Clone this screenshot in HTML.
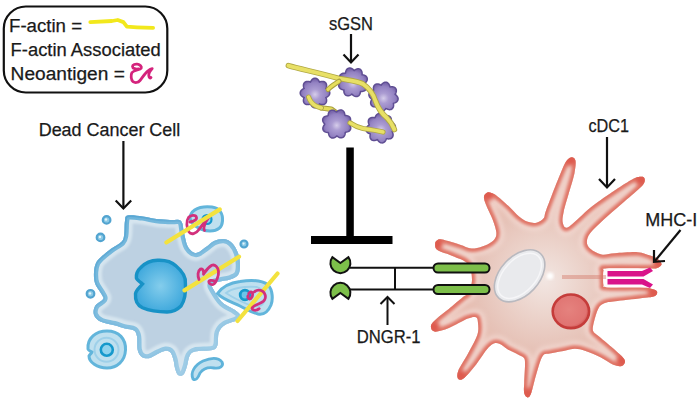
<!DOCTYPE html>
<html><head><meta charset="utf-8"><style>
html,body{margin:0;padding:0;background:#fff;}
svg{display:block;}
text{font-family:"Liberation Sans",sans-serif;fill:#1a1a1a;stroke:#1a1a1a;stroke-width:0.25;}
.fl{fill:url(#pg);stroke:#5f4e93;stroke-width:1.5;}
.blue{fill:#bcd9ea;stroke:#5fb2da;stroke-width:2.5;}
</style></head><body>
<svg width="700" height="400" viewBox="0 0 700 400">
<defs>
<radialGradient id="pg" cx="0.5" cy="0.55" r="0.5">
<stop offset="0" stop-color="#d6cdea"/><stop offset="0.35" stop-color="#ab9cd2"/><stop offset="0.8" stop-color="#9382c2"/><stop offset="1" stop-color="#7b68ad"/>
</radialGradient>
<radialGradient id="dcg" gradientUnits="userSpaceOnUse" cx="545" cy="280" r="100">
<stop offset="0" stop-color="#f2e6e2"/><stop offset="0.35" stop-color="#ecd4cc"/><stop offset="0.7" stop-color="#e6c2b7"/><stop offset="1" stop-color="#e6b4a7"/>
</radialGradient>
<radialGradient id="rcg" cx="0.45" cy="0.45" r="0.55">
<stop offset="0" stop-color="#e5827e"/><stop offset="0.85" stop-color="#e07472"/><stop offset="1" stop-color="#d45a58"/>
</radialGradient>
<radialGradient id="nucg" cx="0.5" cy="0.5" r="0.5">
<stop offset="0" stop-color="#84cdec"/><stop offset="1" stop-color="#42aadd"/>
</radialGradient>
<filter id="blur2" x="-20%" y="-20%" width="140%" height="140%"><feGaussianBlur stdDeviation="2"/></filter>
<linearGradient id="ccb1" gradientUnits="userSpaceOnUse" x1="110" y1="220" x2="210" y2="370"><stop offset="0" stop-color="#6cb4da"/><stop offset="0.55" stop-color="#86c0e0"/><stop offset="1" stop-color="#a6d0e8"/></linearGradient>
<linearGradient id="ccb2" gradientUnits="userSpaceOnUse" x1="110" y1="220" x2="210" y2="370"><stop offset="0" stop-color="#55a5d2"/><stop offset="0.55" stop-color="#80bde0"/><stop offset="1" stop-color="#a2cde6"/></linearGradient>
<filter id="blur15" x="-20%" y="-20%" width="140%" height="140%"><feGaussianBlur stdDeviation="1.5"/></filter>
<filter id="blur1" x="-20%" y="-20%" width="140%" height="140%"><feGaussianBlur stdDeviation="1"/></filter>
<clipPath id="dcclip"><path d="M435.20,244.00 C435.12,242.42 435.87,241.25 437.00,240.50 C438.13,239.75 438.17,238.80 442.00,239.50 C445.83,240.20 455.33,243.23 460.00,244.70 C464.67,246.17 467.17,247.75 470.00,248.30 C472.83,248.85 474.08,248.63 477.00,248.00 C479.92,247.37 484.58,245.95 487.50,244.50 C490.42,243.05 493.03,241.33 494.50,239.30 C495.97,237.27 496.58,235.52 496.30,232.30 C496.02,229.08 494.55,224.67 492.80,220.00 C491.05,215.33 487.27,208.23 485.80,204.30 C484.33,200.37 483.72,198.38 484.00,196.40 C484.28,194.42 486.25,192.97 487.50,192.40 C488.75,191.83 490.03,192.48 491.50,193.00 C492.97,193.52 493.47,193.33 496.30,195.50 C499.13,197.67 504.72,202.50 508.50,206.00 C512.28,209.50 515.78,213.87 519.00,216.50 C522.22,219.13 524.88,220.77 527.80,221.80 C530.72,222.83 533.87,223.28 536.50,222.70 C539.13,222.12 542.08,220.13 543.60,218.30 C545.12,216.47 544.20,215.63 545.60,211.70 C547.00,207.77 549.52,201.08 552.00,194.70 C554.48,188.32 558.18,178.90 560.50,173.40 C562.82,167.90 564.12,164.37 565.90,161.70 C567.68,159.03 569.62,157.58 571.20,157.40 C572.78,157.22 574.87,157.93 575.40,160.60 C575.93,163.27 575.47,168.07 574.40,173.40 C573.33,178.73 570.78,186.22 569.00,192.60 C567.22,198.98 564.75,206.75 563.70,211.70 C562.65,216.65 562.15,219.63 562.70,222.30 C563.25,224.97 564.28,228.42 567.00,227.70 C569.72,226.98 574.75,221.62 579.00,218.00 C583.25,214.38 586.50,210.62 592.50,206.00 C598.50,201.38 608.25,194.80 615.00,190.30 C621.75,185.80 628.67,181.25 633.00,179.00 C637.33,176.75 639.12,176.98 641.00,176.80 C642.88,176.62 643.75,176.97 644.30,177.90 C644.85,178.83 645.05,180.72 644.30,182.40 C643.55,184.08 643.55,184.43 639.80,188.00 C636.05,191.57 627.80,198.55 621.80,203.80 C615.80,209.05 609.05,214.63 603.80,219.50 C598.55,224.37 593.12,229.25 590.30,233.00 C587.48,236.75 586.90,239.37 586.90,242.00 C586.90,244.63 587.87,246.72 590.30,248.80 C592.73,250.88 597.38,253.75 601.50,254.50 C605.62,255.25 608.98,253.68 615.00,253.30 C621.02,252.92 631.77,251.82 637.60,252.20 C643.43,252.58 646.60,254.43 650.00,255.60 C653.40,256.77 656.08,257.72 658.00,259.20 C659.92,260.68 661.67,263.03 661.50,264.50 C661.33,265.97 658.92,267.33 657.00,268.00 C655.08,268.67 658.33,268.42 650.00,268.50 C641.67,268.58 614.75,268.08 607.00,268.50 C599.25,268.92 604.08,268.33 603.50,271.00 C602.92,273.67 602.92,281.83 603.50,284.50 C604.08,287.17 600.58,286.55 607.00,287.00 C613.42,287.45 634.50,286.87 642.00,287.20 C649.50,287.53 649.50,288.28 652.00,289.00 C654.50,289.72 656.50,290.33 657.00,291.50 C657.50,292.67 657.00,294.95 655.00,296.00 C653.00,297.05 651.25,296.97 645.00,297.80 C638.75,298.63 624.20,300.12 617.50,301.00 C610.80,301.88 607.98,301.87 604.80,303.10 C601.62,304.33 600.18,305.38 598.40,308.40 C596.62,311.42 595.00,317.48 594.10,321.20 C593.20,324.92 592.28,328.23 593.00,330.70 C593.72,333.17 595.37,333.33 598.40,336.00 C601.43,338.67 607.30,343.32 611.20,346.70 C615.10,350.08 619.50,353.82 621.80,356.30 C624.10,358.78 625.00,360.00 625.00,361.60 C625.00,363.20 623.75,365.37 621.80,365.90 C619.85,366.43 616.85,366.23 613.30,364.80 C609.75,363.37 605.12,359.60 600.50,357.30 C595.88,355.00 589.85,352.42 585.60,351.00 C581.35,349.58 578.67,348.80 575.00,348.80 C571.33,348.80 567.85,350.20 563.60,351.00 C559.35,351.80 553.02,352.72 549.50,353.60 C545.98,354.48 544.68,352.93 542.50,356.30 C540.32,359.67 538.28,367.68 536.40,373.80 C534.52,379.92 532.65,389.07 531.20,393.00 C529.75,396.93 528.87,397.40 527.70,397.40 C526.53,397.40 524.78,395.48 524.20,393.00 C523.62,390.52 524.07,387.17 524.20,382.50 C524.33,377.83 525.03,369.08 525.00,365.00 C524.97,360.92 525.17,359.75 524.00,358.00 C522.83,356.25 520.75,355.95 518.00,354.50 C515.25,353.05 510.50,351.05 507.50,349.30 C504.50,347.55 502.27,344.98 500.00,344.00 C497.73,343.02 496.10,342.50 493.90,343.40 C491.70,344.30 489.97,345.63 486.80,349.40 C483.63,353.17 478.67,361.25 474.90,366.00 C471.13,370.75 466.97,375.73 464.20,377.90 C461.43,380.07 459.28,380.18 458.30,379.00 C457.32,377.82 456.72,374.95 458.30,370.80 C459.88,366.65 464.63,360.05 467.80,354.10 C470.97,348.15 475.60,340.28 477.30,335.10 C479.00,329.92 478.22,325.97 478.00,323.00 C477.78,320.03 477.70,318.05 476.00,317.30 C474.30,316.55 472.33,316.72 467.80,318.50 C463.27,320.28 454.35,325.82 448.80,328.00 C443.25,330.18 437.47,332.00 434.50,331.60 C431.53,331.20 430.60,327.78 431.00,325.60 C431.40,323.42 433.93,321.27 436.90,318.50 C439.87,315.73 444.45,312.57 448.80,309.00 C453.15,305.43 459.80,299.77 463.00,297.10 C466.20,294.43 466.50,295.85 468.00,293.00 C469.50,290.15 472.00,284.83 472.00,280.00 C472.00,275.17 471.25,268.00 468.00,264.00 C464.75,260.00 457.58,258.33 452.50,256.00 C447.42,253.67 440.38,252.00 437.50,250.00 C434.62,248.00 435.28,245.58 435.20,244.00Z"/></clipPath>
<clipPath id="ccclip"><path d="M127.60,215.50 C130.52,214.77 137.68,215.82 142.50,216.40 C147.32,216.98 151.92,218.40 156.50,219.00 C161.08,219.60 165.92,219.67 170.00,220.00 C174.08,220.33 178.67,218.83 181.00,221.00 C183.33,223.17 182.83,228.67 184.00,233.00 C185.17,237.33 186.00,243.67 188.00,247.00 C190.00,250.33 193.00,253.00 196.00,253.00 C199.00,253.00 203.00,249.00 206.00,247.00 C209.00,245.00 211.00,242.33 214.00,241.00 C217.00,239.67 221.00,238.67 224.00,239.00 C227.00,239.33 229.67,240.67 232.00,243.00 C234.33,245.33 236.67,249.33 238.00,253.00 C239.33,256.67 240.00,261.33 240.00,265.00 C240.00,268.67 239.67,272.58 238.00,275.00 C236.33,277.42 233.00,278.42 230.00,279.50 C227.00,280.58 223.00,280.75 220.00,281.50 C217.00,282.25 213.04,282.58 212.00,284.00 C210.96,285.42 212.00,286.92 213.75,290.00 C215.50,293.08 218.96,299.17 222.50,302.50 C226.04,305.83 232.08,307.92 235.00,310.00 C237.92,312.08 239.58,313.33 240.00,315.00 C240.42,316.67 240.00,318.33 237.50,320.00 C235.00,321.67 228.12,322.92 225.00,325.00 C221.88,327.08 220.00,329.17 218.75,332.50 C217.50,335.83 218.54,342.08 217.50,345.00 C216.46,347.92 216.25,348.92 212.50,350.00 C208.75,351.08 198.83,350.50 195.00,351.50 C191.17,352.50 190.83,353.58 189.50,356.00 C188.17,358.42 188.00,362.92 187.00,366.00 C186.00,369.08 185.00,373.00 183.50,374.50 C182.00,376.00 179.42,376.08 178.00,375.00 C176.58,373.92 175.75,370.50 175.00,368.00 C174.25,365.50 174.25,362.58 173.50,360.00 C172.75,357.42 171.83,354.05 170.50,352.50 C169.17,350.95 167.58,350.50 165.50,350.70 C163.42,350.90 160.75,352.45 158.00,353.70 C155.25,354.95 151.75,357.70 149.00,358.20 C146.25,358.70 143.38,358.07 141.50,356.70 C139.62,355.33 138.45,353.37 137.70,350.00 C136.95,346.63 137.62,339.75 137.00,336.50 C136.38,333.25 136.00,331.83 134.00,330.50 C132.00,329.17 128.28,329.38 125.00,328.50 C121.72,327.62 118.33,326.32 114.30,325.20 C110.27,324.08 104.18,323.50 100.80,321.80 C97.42,320.10 94.95,317.63 94.00,315.00 C93.05,312.37 93.60,308.62 95.10,306.00 C96.60,303.38 101.87,301.17 103.00,299.30 C104.13,297.43 103.22,297.43 101.90,294.80 C100.58,292.17 96.42,287.30 95.10,283.50 C93.78,279.70 93.85,275.42 94.00,272.00 C94.15,268.58 94.92,265.42 96.00,263.00 C97.08,260.58 98.00,259.87 100.50,257.50 C103.00,255.13 107.50,251.42 111.00,248.80 C114.50,246.18 119.30,244.13 121.50,241.80 C123.70,239.47 123.62,238.30 124.20,234.80 C124.78,231.30 124.43,224.02 125.00,220.80 C125.57,217.58 124.68,216.23 127.60,215.50Z"/></clipPath>
<path id="sA" d="M288.4,65.6 C300,69 320,73 339,78.5 C350,80.5 358,81 363,84 C369,88 373,93 375.5,101 C378,108 381,113 387,118 C391,122 393,126 394.4,129.5"/>
<path id="sB" d="M339,81.25 C335,84 331,86 328,89.5"/>
<path id="sC" d="M308.6,97.1 C310,101 312,104 316,106 C318,107 320,107.5 321.4,107.9 M350,122.9 C354,125.5 358,127.5 363,128.5 C370,129.5 377,130.5 383,132"/>
</defs>

<!-- legend -->
<rect x="3.8" y="6.5" width="163.5" height="86" rx="22" ry="22" fill="none" stroke="#111" stroke-width="2.2"/>
<text x="9.01" y="31.50" font-size="18.00" textLength="73.05" lengthAdjust="spacingAndGlyphs">F-actin =</text>
<text x="10.62" y="55.50" font-size="18.00" textLength="150.13" lengthAdjust="spacingAndGlyphs">F-actin Associated</text>
<text x="10.60" y="79.50" font-size="18.00" textLength="114.25" lengthAdjust="spacingAndGlyphs">Neoantigen =</text>
<path d="M90.3,22.1 L112,21 L117.7,20 L123.4,22.1 L126.9,26.7 L137,27.3 L153.1,27.9" fill="none" stroke="#f2e81c" stroke-width="3.8" stroke-linecap="round" stroke-linejoin="round"/>
<path d="M138.5,68.9 C136,69.5 132.5,68.5 132.5,66.5 C132.5,64.5 135.5,63.8 137.5,64.2 C140,64.6 142,66.5 141.2,68.2 C140,70 134,70 132,72.5 C130.5,75 131,80 133,81.6 C135,83 138,82.8 140,80.5 C142.5,77.5 145,73 148,70.8 C149.5,69.6 151,68.8 152.2,68.6 C150.5,70.5 148.5,73 148.8,75.5 C149,77.5 150,78.5 151,77.5" fill="none" stroke="#d4237c" stroke-width="2.8" stroke-linecap="round" stroke-linejoin="round"/>

<!-- sGSN -->
<text x="328.99" y="29.50" font-size="18.00" textLength="44.01" lengthAdjust="spacingAndGlyphs">sGSN</text>
<g stroke="#111" stroke-width="2.2" fill="none" stroke-linecap="butt" stroke-linejoin="miter">
<path d="M351,34 L351,62"/><path d="M343.5,54.5 L351,62.5 L358.5,54.5"/>
</g>

<!-- strands back -->
<g fill="none" stroke-linecap="round" stroke-linejoin="round">
<path d="M321.4,107.9 L331.4,109.3 L350,122.9" stroke="#a9a040" stroke-width="5.5"/><path d="M321.4,107.9 L331.4,109.3 L350,122.9" stroke="#e4dc5a" stroke-width="3.5"/>
</g>
<path class="fl" d="M329.80,93.00 L329.72,93.72 L329.50,94.43 L329.14,95.10 L328.65,95.72 L328.06,96.27 L327.39,96.76 L326.66,97.17 L325.90,97.52 L326.20,98.30 L326.42,99.10 L326.55,99.92 L326.58,100.73 L326.48,101.52 L326.26,102.24 L325.92,102.90 L325.47,103.47 L324.90,103.92 L324.24,104.26 L323.52,104.48 L322.73,104.58 L321.92,104.55 L321.10,104.42 L320.30,104.20 L319.52,103.90 L319.17,104.66 L318.76,105.39 L318.27,106.06 L317.72,106.65 L317.10,107.14 L316.43,107.50 L315.72,107.72 L315.00,107.80 L314.28,107.72 L313.57,107.50 L312.90,107.14 L312.28,106.65 L311.73,106.06 L311.24,105.39 L310.83,104.66 L310.48,103.90 L309.70,104.20 L308.90,104.42 L308.08,104.55 L307.27,104.58 L306.48,104.48 L305.76,104.26 L305.10,103.92 L304.53,103.47 L304.08,102.90 L303.74,102.24 L303.52,101.52 L303.42,100.73 L303.45,99.92 L303.58,99.10 L303.80,98.30 L304.10,97.52 L303.34,97.17 L302.61,96.76 L301.94,96.27 L301.35,95.72 L300.86,95.10 L300.50,94.43 L300.28,93.72 L300.20,93.00 L300.28,92.28 L300.50,91.57 L300.86,90.90 L301.35,90.28 L301.94,89.73 L302.61,89.24 L303.34,88.83 L304.10,88.48 L303.80,87.70 L303.58,86.90 L303.45,86.08 L303.42,85.27 L303.52,84.48 L303.74,83.76 L304.08,83.10 L304.53,82.53 L305.10,82.08 L305.76,81.74 L306.48,81.52 L307.27,81.42 L308.08,81.45 L308.90,81.58 L309.70,81.80 L310.48,82.10 L310.83,81.34 L311.24,80.61 L311.73,79.94 L312.28,79.35 L312.90,78.86 L313.57,78.50 L314.28,78.28 L315.00,78.20 L315.72,78.28 L316.43,78.50 L317.10,78.86 L317.72,79.35 L318.27,79.94 L318.76,80.61 L319.17,81.34 L319.52,82.10 L320.30,81.80 L321.10,81.58 L321.92,81.45 L322.73,81.42 L323.52,81.52 L324.24,81.74 L324.90,82.08 L325.47,82.53 L325.92,83.10 L326.26,83.76 L326.48,84.48 L326.58,85.27 L326.55,86.08 L326.42,86.90 L326.20,87.70 L325.90,88.48 L326.66,88.83 L327.39,89.24 L328.06,89.73 L328.65,90.28 L329.14,90.90 L329.50,91.57 L329.72,92.28Z"/><path class="fl" d="M365.89,82.30 L365.31,82.90 L364.81,83.46 L365.31,84.13 L365.76,84.84 L366.12,85.59 L366.37,86.35 L366.49,87.13 L366.49,87.89 L366.34,88.61 L366.05,89.28 L365.63,89.87 L365.09,90.38 L364.45,90.79 L363.73,91.10 L362.94,91.31 L362.11,91.41 L361.27,91.43 L360.53,91.47 L360.42,92.30 L360.23,93.12 L359.95,93.90 L359.58,94.62 L359.13,95.25 L358.59,95.79 L357.97,96.19 L357.30,96.46 L356.58,96.59 L355.84,96.57 L355.09,96.40 L354.36,96.11 L353.66,95.70 L353.00,95.19 L352.40,94.61 L351.84,94.11 L351.17,94.61 L350.46,95.06 L349.71,95.42 L348.95,95.67 L348.17,95.79 L347.41,95.79 L346.69,95.64 L346.02,95.35 L345.43,94.93 L344.92,94.39 L344.51,93.75 L344.20,93.03 L343.99,92.24 L343.89,91.41 L343.87,90.57 L343.83,89.83 L343.00,89.72 L342.18,89.53 L341.40,89.25 L340.68,88.88 L340.05,88.43 L339.51,87.89 L339.11,87.27 L338.84,86.60 L338.71,85.88 L338.73,85.14 L338.90,84.39 L339.19,83.66 L339.60,82.96 L340.11,82.30 L340.69,81.70 L341.19,81.14 L340.69,80.47 L340.24,79.76 L339.88,79.01 L339.63,78.25 L339.51,77.47 L339.51,76.71 L339.66,75.99 L339.95,75.32 L340.37,74.73 L340.91,74.22 L341.55,73.81 L342.27,73.50 L343.06,73.29 L343.89,73.19 L344.73,73.17 L345.47,73.13 L345.58,72.30 L345.77,71.48 L346.05,70.70 L346.42,69.98 L346.87,69.35 L347.41,68.81 L348.03,68.41 L348.70,68.14 L349.42,68.01 L350.16,68.03 L350.91,68.20 L351.64,68.49 L352.34,68.90 L353.00,69.41 L353.60,69.99 L354.16,70.49 L354.83,69.99 L355.54,69.54 L356.29,69.18 L357.05,68.93 L357.83,68.81 L358.59,68.81 L359.31,68.96 L359.98,69.25 L360.57,69.67 L361.08,70.21 L361.49,70.85 L361.80,71.57 L362.01,72.36 L362.11,73.19 L362.13,74.03 L362.17,74.77 L363.00,74.88 L363.82,75.07 L364.60,75.35 L365.32,75.72 L365.95,76.17 L366.49,76.71 L366.89,77.33 L367.16,78.00 L367.29,78.72 L367.27,79.46 L367.10,80.21 L366.81,80.94 L366.40,81.64Z"/><path class="fl" d="M397.51,96.80 L397.85,97.50 L398.05,98.23 L398.11,98.97 L398.01,99.69 L397.77,100.38 L397.39,101.01 L396.89,101.59 L396.27,102.09 L395.57,102.51 L394.81,102.85 L394.01,103.10 L393.42,103.43 L393.55,104.25 L393.60,105.09 L393.56,105.92 L393.41,106.71 L393.15,107.44 L392.77,108.10 L392.30,108.66 L391.72,109.10 L391.06,109.42 L390.34,109.60 L389.58,109.65 L388.79,109.57 L388.00,109.38 L387.22,109.07 L386.48,108.69 L385.83,108.50 L385.34,109.18 L384.78,109.81 L384.17,110.36 L383.50,110.81 L382.80,111.15 L382.07,111.35 L381.33,111.41 L380.61,111.31 L379.92,111.07 L379.29,110.69 L378.71,110.19 L378.21,109.57 L377.79,108.87 L377.45,108.11 L377.20,107.31 L376.87,106.72 L376.05,106.85 L375.21,106.90 L374.38,106.86 L373.59,106.71 L372.86,106.45 L372.20,106.07 L371.64,105.60 L371.20,105.02 L370.88,104.36 L370.70,103.64 L370.65,102.88 L370.73,102.09 L370.92,101.30 L371.23,100.52 L371.61,99.78 L371.80,99.13 L371.12,98.64 L370.49,98.08 L369.94,97.47 L369.49,96.80 L369.15,96.10 L368.95,95.37 L368.89,94.63 L368.99,93.91 L369.23,93.22 L369.61,92.59 L370.11,92.01 L370.73,91.51 L371.43,91.09 L372.19,90.75 L372.99,90.50 L373.58,90.17 L373.45,89.35 L373.40,88.51 L373.44,87.68 L373.59,86.89 L373.85,86.16 L374.23,85.50 L374.70,84.94 L375.28,84.50 L375.94,84.18 L376.66,84.00 L377.42,83.95 L378.21,84.03 L379.00,84.22 L379.78,84.53 L380.52,84.91 L381.17,85.10 L381.66,84.42 L382.22,83.79 L382.83,83.24 L383.50,82.79 L384.20,82.45 L384.93,82.25 L385.67,82.19 L386.39,82.29 L387.08,82.53 L387.71,82.91 L388.29,83.41 L388.79,84.03 L389.21,84.73 L389.55,85.49 L389.80,86.29 L390.13,86.88 L390.95,86.75 L391.79,86.70 L392.62,86.74 L393.41,86.89 L394.14,87.15 L394.80,87.53 L395.36,88.00 L395.80,88.58 L396.12,89.24 L396.30,89.96 L396.35,90.72 L396.27,91.51 L396.08,92.30 L395.77,93.08 L395.39,93.82 L395.20,94.47 L395.88,94.96 L396.51,95.52 L397.06,96.13Z"/><path class="fl" d="M395.19,128.20 L394.86,128.90 L394.41,129.55 L393.86,130.15 L393.22,130.69 L392.53,131.16 L392.18,131.68 L392.54,132.44 L392.83,133.22 L393.02,134.03 L393.10,134.83 L393.05,135.60 L392.87,136.33 L392.57,137.00 L392.14,137.58 L391.59,138.07 L390.95,138.45 L390.22,138.71 L389.44,138.85 L388.62,138.88 L387.79,138.81 L386.97,138.66 L386.36,138.78 L386.08,139.57 L385.72,140.33 L385.29,141.03 L384.78,141.65 L384.20,142.17 L383.56,142.56 L382.87,142.81 L382.15,142.92 L381.42,142.88 L380.70,142.69 L380.00,142.36 L379.35,141.91 L378.75,141.36 L378.21,140.72 L377.74,140.03 L377.22,139.68 L376.46,140.04 L375.68,140.33 L374.87,140.52 L374.07,140.60 L373.30,140.55 L372.57,140.37 L371.90,140.07 L371.32,139.64 L370.83,139.09 L370.45,138.45 L370.19,137.72 L370.05,136.94 L370.02,136.12 L370.09,135.29 L370.24,134.47 L370.12,133.86 L369.33,133.58 L368.57,133.22 L367.87,132.79 L367.25,132.28 L366.73,131.70 L366.34,131.06 L366.09,130.37 L365.98,129.65 L366.02,128.92 L366.21,128.20 L366.54,127.50 L366.99,126.85 L367.54,126.25 L368.18,125.71 L368.87,125.24 L369.22,124.72 L368.86,123.96 L368.57,123.18 L368.38,122.37 L368.30,121.57 L368.35,120.80 L368.53,120.07 L368.83,119.40 L369.26,118.82 L369.81,118.33 L370.45,117.95 L371.18,117.69 L371.96,117.55 L372.78,117.52 L373.61,117.59 L374.43,117.74 L375.04,117.62 L375.32,116.83 L375.68,116.07 L376.11,115.37 L376.62,114.75 L377.20,114.23 L377.84,113.84 L378.53,113.59 L379.25,113.48 L379.98,113.52 L380.70,113.71 L381.40,114.04 L382.05,114.49 L382.65,115.04 L383.19,115.68 L383.66,116.37 L384.18,116.72 L384.94,116.36 L385.72,116.07 L386.53,115.88 L387.33,115.80 L388.10,115.85 L388.83,116.03 L389.50,116.33 L390.08,116.76 L390.57,117.31 L390.95,117.95 L391.21,118.68 L391.35,119.46 L391.38,120.28 L391.31,121.11 L391.16,121.93 L391.28,122.54 L392.07,122.82 L392.83,123.18 L393.53,123.61 L394.15,124.12 L394.67,124.70 L395.06,125.34 L395.31,126.03 L395.42,126.75 L395.38,127.48Z"/><path class="fl" d="M348.76,124.00 L349.33,124.62 L349.82,125.29 L350.23,126.01 L350.53,126.75 L350.70,127.51 L350.73,128.26 L350.62,128.98 L350.36,129.66 L349.97,130.28 L349.45,130.82 L348.83,131.27 L348.11,131.63 L347.34,131.89 L346.52,132.06 L345.68,132.14 L345.23,132.53 L345.19,133.37 L345.07,134.19 L344.85,134.99 L344.53,135.72 L344.12,136.38 L343.61,136.93 L343.02,137.36 L342.36,137.66 L341.65,137.82 L340.90,137.84 L340.14,137.72 L339.38,137.46 L338.64,137.10 L337.94,136.64 L337.29,136.11 L336.70,136.06 L336.08,136.63 L335.41,137.12 L334.69,137.53 L333.95,137.83 L333.19,138.00 L332.44,138.03 L331.72,137.92 L331.04,137.66 L330.42,137.27 L329.88,136.75 L329.43,136.13 L329.07,135.41 L328.81,134.64 L328.64,133.82 L328.56,132.98 L328.17,132.53 L327.33,132.49 L326.51,132.37 L325.71,132.15 L324.98,131.83 L324.32,131.42 L323.77,130.91 L323.34,130.32 L323.04,129.66 L322.88,128.95 L322.86,128.20 L322.98,127.44 L323.24,126.68 L323.60,125.94 L324.06,125.24 L324.59,124.59 L324.64,124.00 L324.07,123.38 L323.58,122.71 L323.17,121.99 L322.87,121.25 L322.70,120.49 L322.67,119.74 L322.78,119.02 L323.04,118.34 L323.43,117.72 L323.95,117.18 L324.57,116.73 L325.29,116.37 L326.06,116.11 L326.88,115.94 L327.72,115.86 L328.17,115.47 L328.21,114.63 L328.33,113.81 L328.55,113.01 L328.87,112.28 L329.28,111.62 L329.79,111.07 L330.38,110.64 L331.04,110.34 L331.75,110.18 L332.50,110.16 L333.26,110.28 L334.02,110.54 L334.76,110.90 L335.46,111.36 L336.11,111.89 L336.70,111.94 L337.32,111.37 L337.99,110.88 L338.71,110.47 L339.45,110.17 L340.21,110.00 L340.96,109.97 L341.68,110.08 L342.36,110.34 L342.98,110.73 L343.52,111.25 L343.97,111.87 L344.33,112.59 L344.59,113.36 L344.76,114.18 L344.84,115.02 L345.23,115.47 L346.07,115.51 L346.89,115.63 L347.69,115.85 L348.42,116.17 L349.08,116.58 L349.63,117.09 L350.06,117.68 L350.36,118.34 L350.52,119.05 L350.54,119.80 L350.42,120.56 L350.16,121.32 L349.80,122.06 L349.34,122.76 L348.81,123.41Z"/>


<use href="#sA" stroke="#b0a844" stroke-width="5.6" fill="none" stroke-linecap="round"/><use href="#sA" stroke="#e8e066" stroke-width="3.8" fill="none" stroke-linecap="round"/>
<use href="#sB" stroke="#a9a040" stroke-width="5" fill="none" stroke-linecap="round"/><use href="#sB" stroke="#e6de5c" stroke-width="3" fill="none" stroke-linecap="round"/>
<use href="#sC" stroke="#b0a844" stroke-width="5.2" fill="none" stroke-linecap="round"/><use href="#sC" stroke="#e8e066" stroke-width="3.4" fill="none" stroke-linecap="round"/>
<!-- T bar -->
<rect x="346.3" y="147.5" width="7.5" height="89" fill="#000"/>
<rect x="311" y="236" width="81.5" height="8" fill="#000"/>

<!-- DNGR-1 -->
<g stroke="#111" stroke-width="2" fill="none">
<path d="M350,267.8 H434"/><path d="M350,289.5 H434"/><path d="M395,267.8 V289.5"/>
<path d="M387.5,297 V325"/><path d="M380.5,304 L387.5,297 L394.5,304"/>
</g>
<path d="M340.4,263 L348.4,257.2 A10,10 0 1 1 332.4,257.2 Z" fill="#7dbf4a" stroke="#111" stroke-width="2" stroke-linejoin="miter"/>
<path d="M340.4,293 L348.4,298.8 A10,10 0 1 0 332.4,298.8 Z" fill="#7dbf4a" stroke="#111" stroke-width="2" stroke-linejoin="miter"/>
<text x="356.71" y="343.00" font-size="18.00" textLength="63.85" lengthAdjust="spacingAndGlyphs">DNGR-1</text>

<!-- dendritic cell -->
<path d="M435.20,244.00 C435.12,242.42 435.87,241.25 437.00,240.50 C438.13,239.75 438.17,238.80 442.00,239.50 C445.83,240.20 455.33,243.23 460.00,244.70 C464.67,246.17 467.17,247.75 470.00,248.30 C472.83,248.85 474.08,248.63 477.00,248.00 C479.92,247.37 484.58,245.95 487.50,244.50 C490.42,243.05 493.03,241.33 494.50,239.30 C495.97,237.27 496.58,235.52 496.30,232.30 C496.02,229.08 494.55,224.67 492.80,220.00 C491.05,215.33 487.27,208.23 485.80,204.30 C484.33,200.37 483.72,198.38 484.00,196.40 C484.28,194.42 486.25,192.97 487.50,192.40 C488.75,191.83 490.03,192.48 491.50,193.00 C492.97,193.52 493.47,193.33 496.30,195.50 C499.13,197.67 504.72,202.50 508.50,206.00 C512.28,209.50 515.78,213.87 519.00,216.50 C522.22,219.13 524.88,220.77 527.80,221.80 C530.72,222.83 533.87,223.28 536.50,222.70 C539.13,222.12 542.08,220.13 543.60,218.30 C545.12,216.47 544.20,215.63 545.60,211.70 C547.00,207.77 549.52,201.08 552.00,194.70 C554.48,188.32 558.18,178.90 560.50,173.40 C562.82,167.90 564.12,164.37 565.90,161.70 C567.68,159.03 569.62,157.58 571.20,157.40 C572.78,157.22 574.87,157.93 575.40,160.60 C575.93,163.27 575.47,168.07 574.40,173.40 C573.33,178.73 570.78,186.22 569.00,192.60 C567.22,198.98 564.75,206.75 563.70,211.70 C562.65,216.65 562.15,219.63 562.70,222.30 C563.25,224.97 564.28,228.42 567.00,227.70 C569.72,226.98 574.75,221.62 579.00,218.00 C583.25,214.38 586.50,210.62 592.50,206.00 C598.50,201.38 608.25,194.80 615.00,190.30 C621.75,185.80 628.67,181.25 633.00,179.00 C637.33,176.75 639.12,176.98 641.00,176.80 C642.88,176.62 643.75,176.97 644.30,177.90 C644.85,178.83 645.05,180.72 644.30,182.40 C643.55,184.08 643.55,184.43 639.80,188.00 C636.05,191.57 627.80,198.55 621.80,203.80 C615.80,209.05 609.05,214.63 603.80,219.50 C598.55,224.37 593.12,229.25 590.30,233.00 C587.48,236.75 586.90,239.37 586.90,242.00 C586.90,244.63 587.87,246.72 590.30,248.80 C592.73,250.88 597.38,253.75 601.50,254.50 C605.62,255.25 608.98,253.68 615.00,253.30 C621.02,252.92 631.77,251.82 637.60,252.20 C643.43,252.58 646.60,254.43 650.00,255.60 C653.40,256.77 656.08,257.72 658.00,259.20 C659.92,260.68 661.67,263.03 661.50,264.50 C661.33,265.97 658.92,267.33 657.00,268.00 C655.08,268.67 658.33,268.42 650.00,268.50 C641.67,268.58 614.75,268.08 607.00,268.50 C599.25,268.92 604.08,268.33 603.50,271.00 C602.92,273.67 602.92,281.83 603.50,284.50 C604.08,287.17 600.58,286.55 607.00,287.00 C613.42,287.45 634.50,286.87 642.00,287.20 C649.50,287.53 649.50,288.28 652.00,289.00 C654.50,289.72 656.50,290.33 657.00,291.50 C657.50,292.67 657.00,294.95 655.00,296.00 C653.00,297.05 651.25,296.97 645.00,297.80 C638.75,298.63 624.20,300.12 617.50,301.00 C610.80,301.88 607.98,301.87 604.80,303.10 C601.62,304.33 600.18,305.38 598.40,308.40 C596.62,311.42 595.00,317.48 594.10,321.20 C593.20,324.92 592.28,328.23 593.00,330.70 C593.72,333.17 595.37,333.33 598.40,336.00 C601.43,338.67 607.30,343.32 611.20,346.70 C615.10,350.08 619.50,353.82 621.80,356.30 C624.10,358.78 625.00,360.00 625.00,361.60 C625.00,363.20 623.75,365.37 621.80,365.90 C619.85,366.43 616.85,366.23 613.30,364.80 C609.75,363.37 605.12,359.60 600.50,357.30 C595.88,355.00 589.85,352.42 585.60,351.00 C581.35,349.58 578.67,348.80 575.00,348.80 C571.33,348.80 567.85,350.20 563.60,351.00 C559.35,351.80 553.02,352.72 549.50,353.60 C545.98,354.48 544.68,352.93 542.50,356.30 C540.32,359.67 538.28,367.68 536.40,373.80 C534.52,379.92 532.65,389.07 531.20,393.00 C529.75,396.93 528.87,397.40 527.70,397.40 C526.53,397.40 524.78,395.48 524.20,393.00 C523.62,390.52 524.07,387.17 524.20,382.50 C524.33,377.83 525.03,369.08 525.00,365.00 C524.97,360.92 525.17,359.75 524.00,358.00 C522.83,356.25 520.75,355.95 518.00,354.50 C515.25,353.05 510.50,351.05 507.50,349.30 C504.50,347.55 502.27,344.98 500.00,344.00 C497.73,343.02 496.10,342.50 493.90,343.40 C491.70,344.30 489.97,345.63 486.80,349.40 C483.63,353.17 478.67,361.25 474.90,366.00 C471.13,370.75 466.97,375.73 464.20,377.90 C461.43,380.07 459.28,380.18 458.30,379.00 C457.32,377.82 456.72,374.95 458.30,370.80 C459.88,366.65 464.63,360.05 467.80,354.10 C470.97,348.15 475.60,340.28 477.30,335.10 C479.00,329.92 478.22,325.97 478.00,323.00 C477.78,320.03 477.70,318.05 476.00,317.30 C474.30,316.55 472.33,316.72 467.80,318.50 C463.27,320.28 454.35,325.82 448.80,328.00 C443.25,330.18 437.47,332.00 434.50,331.60 C431.53,331.20 430.60,327.78 431.00,325.60 C431.40,323.42 433.93,321.27 436.90,318.50 C439.87,315.73 444.45,312.57 448.80,309.00 C453.15,305.43 459.80,299.77 463.00,297.10 C466.20,294.43 466.50,295.85 468.00,293.00 C469.50,290.15 472.00,284.83 472.00,280.00 C472.00,275.17 471.25,268.00 468.00,264.00 C464.75,260.00 457.58,258.33 452.50,256.00 C447.42,253.67 440.38,252.00 437.50,250.00 C434.62,248.00 435.28,245.58 435.20,244.00Z" fill="url(#dcg)"/>
<g clip-path="url(#dcclip)"><path d="M435.20,244.00 C435.12,242.42 435.87,241.25 437.00,240.50 C438.13,239.75 438.17,238.80 442.00,239.50 C445.83,240.20 455.33,243.23 460.00,244.70 C464.67,246.17 467.17,247.75 470.00,248.30 C472.83,248.85 474.08,248.63 477.00,248.00 C479.92,247.37 484.58,245.95 487.50,244.50 C490.42,243.05 493.03,241.33 494.50,239.30 C495.97,237.27 496.58,235.52 496.30,232.30 C496.02,229.08 494.55,224.67 492.80,220.00 C491.05,215.33 487.27,208.23 485.80,204.30 C484.33,200.37 483.72,198.38 484.00,196.40 C484.28,194.42 486.25,192.97 487.50,192.40 C488.75,191.83 490.03,192.48 491.50,193.00 C492.97,193.52 493.47,193.33 496.30,195.50 C499.13,197.67 504.72,202.50 508.50,206.00 C512.28,209.50 515.78,213.87 519.00,216.50 C522.22,219.13 524.88,220.77 527.80,221.80 C530.72,222.83 533.87,223.28 536.50,222.70 C539.13,222.12 542.08,220.13 543.60,218.30 C545.12,216.47 544.20,215.63 545.60,211.70 C547.00,207.77 549.52,201.08 552.00,194.70 C554.48,188.32 558.18,178.90 560.50,173.40 C562.82,167.90 564.12,164.37 565.90,161.70 C567.68,159.03 569.62,157.58 571.20,157.40 C572.78,157.22 574.87,157.93 575.40,160.60 C575.93,163.27 575.47,168.07 574.40,173.40 C573.33,178.73 570.78,186.22 569.00,192.60 C567.22,198.98 564.75,206.75 563.70,211.70 C562.65,216.65 562.15,219.63 562.70,222.30 C563.25,224.97 564.28,228.42 567.00,227.70 C569.72,226.98 574.75,221.62 579.00,218.00 C583.25,214.38 586.50,210.62 592.50,206.00 C598.50,201.38 608.25,194.80 615.00,190.30 C621.75,185.80 628.67,181.25 633.00,179.00 C637.33,176.75 639.12,176.98 641.00,176.80 C642.88,176.62 643.75,176.97 644.30,177.90 C644.85,178.83 645.05,180.72 644.30,182.40 C643.55,184.08 643.55,184.43 639.80,188.00 C636.05,191.57 627.80,198.55 621.80,203.80 C615.80,209.05 609.05,214.63 603.80,219.50 C598.55,224.37 593.12,229.25 590.30,233.00 C587.48,236.75 586.90,239.37 586.90,242.00 C586.90,244.63 587.87,246.72 590.30,248.80 C592.73,250.88 597.38,253.75 601.50,254.50 C605.62,255.25 608.98,253.68 615.00,253.30 C621.02,252.92 631.77,251.82 637.60,252.20 C643.43,252.58 646.60,254.43 650.00,255.60 C653.40,256.77 656.08,257.72 658.00,259.20 C659.92,260.68 661.67,263.03 661.50,264.50 C661.33,265.97 658.92,267.33 657.00,268.00 C655.08,268.67 658.33,268.42 650.00,268.50 C641.67,268.58 614.75,268.08 607.00,268.50 C599.25,268.92 604.08,268.33 603.50,271.00 C602.92,273.67 602.92,281.83 603.50,284.50 C604.08,287.17 600.58,286.55 607.00,287.00 C613.42,287.45 634.50,286.87 642.00,287.20 C649.50,287.53 649.50,288.28 652.00,289.00 C654.50,289.72 656.50,290.33 657.00,291.50 C657.50,292.67 657.00,294.95 655.00,296.00 C653.00,297.05 651.25,296.97 645.00,297.80 C638.75,298.63 624.20,300.12 617.50,301.00 C610.80,301.88 607.98,301.87 604.80,303.10 C601.62,304.33 600.18,305.38 598.40,308.40 C596.62,311.42 595.00,317.48 594.10,321.20 C593.20,324.92 592.28,328.23 593.00,330.70 C593.72,333.17 595.37,333.33 598.40,336.00 C601.43,338.67 607.30,343.32 611.20,346.70 C615.10,350.08 619.50,353.82 621.80,356.30 C624.10,358.78 625.00,360.00 625.00,361.60 C625.00,363.20 623.75,365.37 621.80,365.90 C619.85,366.43 616.85,366.23 613.30,364.80 C609.75,363.37 605.12,359.60 600.50,357.30 C595.88,355.00 589.85,352.42 585.60,351.00 C581.35,349.58 578.67,348.80 575.00,348.80 C571.33,348.80 567.85,350.20 563.60,351.00 C559.35,351.80 553.02,352.72 549.50,353.60 C545.98,354.48 544.68,352.93 542.50,356.30 C540.32,359.67 538.28,367.68 536.40,373.80 C534.52,379.92 532.65,389.07 531.20,393.00 C529.75,396.93 528.87,397.40 527.70,397.40 C526.53,397.40 524.78,395.48 524.20,393.00 C523.62,390.52 524.07,387.17 524.20,382.50 C524.33,377.83 525.03,369.08 525.00,365.00 C524.97,360.92 525.17,359.75 524.00,358.00 C522.83,356.25 520.75,355.95 518.00,354.50 C515.25,353.05 510.50,351.05 507.50,349.30 C504.50,347.55 502.27,344.98 500.00,344.00 C497.73,343.02 496.10,342.50 493.90,343.40 C491.70,344.30 489.97,345.63 486.80,349.40 C483.63,353.17 478.67,361.25 474.90,366.00 C471.13,370.75 466.97,375.73 464.20,377.90 C461.43,380.07 459.28,380.18 458.30,379.00 C457.32,377.82 456.72,374.95 458.30,370.80 C459.88,366.65 464.63,360.05 467.80,354.10 C470.97,348.15 475.60,340.28 477.30,335.10 C479.00,329.92 478.22,325.97 478.00,323.00 C477.78,320.03 477.70,318.05 476.00,317.30 C474.30,316.55 472.33,316.72 467.80,318.50 C463.27,320.28 454.35,325.82 448.80,328.00 C443.25,330.18 437.47,332.00 434.50,331.60 C431.53,331.20 430.60,327.78 431.00,325.60 C431.40,323.42 433.93,321.27 436.90,318.50 C439.87,315.73 444.45,312.57 448.80,309.00 C453.15,305.43 459.80,299.77 463.00,297.10 C466.20,294.43 466.50,295.85 468.00,293.00 C469.50,290.15 472.00,284.83 472.00,280.00 C472.00,275.17 471.25,268.00 468.00,264.00 C464.75,260.00 457.58,258.33 452.50,256.00 C447.42,253.67 440.38,252.00 437.50,250.00 C434.62,248.00 435.28,245.58 435.20,244.00Z" fill="none" stroke="#f4dcd4" stroke-opacity="0.7" stroke-width="16" filter="url(#blur2)"/><path d="M435.20,244.00 C435.12,242.42 435.87,241.25 437.00,240.50 C438.13,239.75 438.17,238.80 442.00,239.50 C445.83,240.20 455.33,243.23 460.00,244.70 C464.67,246.17 467.17,247.75 470.00,248.30 C472.83,248.85 474.08,248.63 477.00,248.00 C479.92,247.37 484.58,245.95 487.50,244.50 C490.42,243.05 493.03,241.33 494.50,239.30 C495.97,237.27 496.58,235.52 496.30,232.30 C496.02,229.08 494.55,224.67 492.80,220.00 C491.05,215.33 487.27,208.23 485.80,204.30 C484.33,200.37 483.72,198.38 484.00,196.40 C484.28,194.42 486.25,192.97 487.50,192.40 C488.75,191.83 490.03,192.48 491.50,193.00 C492.97,193.52 493.47,193.33 496.30,195.50 C499.13,197.67 504.72,202.50 508.50,206.00 C512.28,209.50 515.78,213.87 519.00,216.50 C522.22,219.13 524.88,220.77 527.80,221.80 C530.72,222.83 533.87,223.28 536.50,222.70 C539.13,222.12 542.08,220.13 543.60,218.30 C545.12,216.47 544.20,215.63 545.60,211.70 C547.00,207.77 549.52,201.08 552.00,194.70 C554.48,188.32 558.18,178.90 560.50,173.40 C562.82,167.90 564.12,164.37 565.90,161.70 C567.68,159.03 569.62,157.58 571.20,157.40 C572.78,157.22 574.87,157.93 575.40,160.60 C575.93,163.27 575.47,168.07 574.40,173.40 C573.33,178.73 570.78,186.22 569.00,192.60 C567.22,198.98 564.75,206.75 563.70,211.70 C562.65,216.65 562.15,219.63 562.70,222.30 C563.25,224.97 564.28,228.42 567.00,227.70 C569.72,226.98 574.75,221.62 579.00,218.00 C583.25,214.38 586.50,210.62 592.50,206.00 C598.50,201.38 608.25,194.80 615.00,190.30 C621.75,185.80 628.67,181.25 633.00,179.00 C637.33,176.75 639.12,176.98 641.00,176.80 C642.88,176.62 643.75,176.97 644.30,177.90 C644.85,178.83 645.05,180.72 644.30,182.40 C643.55,184.08 643.55,184.43 639.80,188.00 C636.05,191.57 627.80,198.55 621.80,203.80 C615.80,209.05 609.05,214.63 603.80,219.50 C598.55,224.37 593.12,229.25 590.30,233.00 C587.48,236.75 586.90,239.37 586.90,242.00 C586.90,244.63 587.87,246.72 590.30,248.80 C592.73,250.88 597.38,253.75 601.50,254.50 C605.62,255.25 608.98,253.68 615.00,253.30 C621.02,252.92 631.77,251.82 637.60,252.20 C643.43,252.58 646.60,254.43 650.00,255.60 C653.40,256.77 656.08,257.72 658.00,259.20 C659.92,260.68 661.67,263.03 661.50,264.50 C661.33,265.97 658.92,267.33 657.00,268.00 C655.08,268.67 658.33,268.42 650.00,268.50 C641.67,268.58 614.75,268.08 607.00,268.50 C599.25,268.92 604.08,268.33 603.50,271.00 C602.92,273.67 602.92,281.83 603.50,284.50 C604.08,287.17 600.58,286.55 607.00,287.00 C613.42,287.45 634.50,286.87 642.00,287.20 C649.50,287.53 649.50,288.28 652.00,289.00 C654.50,289.72 656.50,290.33 657.00,291.50 C657.50,292.67 657.00,294.95 655.00,296.00 C653.00,297.05 651.25,296.97 645.00,297.80 C638.75,298.63 624.20,300.12 617.50,301.00 C610.80,301.88 607.98,301.87 604.80,303.10 C601.62,304.33 600.18,305.38 598.40,308.40 C596.62,311.42 595.00,317.48 594.10,321.20 C593.20,324.92 592.28,328.23 593.00,330.70 C593.72,333.17 595.37,333.33 598.40,336.00 C601.43,338.67 607.30,343.32 611.20,346.70 C615.10,350.08 619.50,353.82 621.80,356.30 C624.10,358.78 625.00,360.00 625.00,361.60 C625.00,363.20 623.75,365.37 621.80,365.90 C619.85,366.43 616.85,366.23 613.30,364.80 C609.75,363.37 605.12,359.60 600.50,357.30 C595.88,355.00 589.85,352.42 585.60,351.00 C581.35,349.58 578.67,348.80 575.00,348.80 C571.33,348.80 567.85,350.20 563.60,351.00 C559.35,351.80 553.02,352.72 549.50,353.60 C545.98,354.48 544.68,352.93 542.50,356.30 C540.32,359.67 538.28,367.68 536.40,373.80 C534.52,379.92 532.65,389.07 531.20,393.00 C529.75,396.93 528.87,397.40 527.70,397.40 C526.53,397.40 524.78,395.48 524.20,393.00 C523.62,390.52 524.07,387.17 524.20,382.50 C524.33,377.83 525.03,369.08 525.00,365.00 C524.97,360.92 525.17,359.75 524.00,358.00 C522.83,356.25 520.75,355.95 518.00,354.50 C515.25,353.05 510.50,351.05 507.50,349.30 C504.50,347.55 502.27,344.98 500.00,344.00 C497.73,343.02 496.10,342.50 493.90,343.40 C491.70,344.30 489.97,345.63 486.80,349.40 C483.63,353.17 478.67,361.25 474.90,366.00 C471.13,370.75 466.97,375.73 464.20,377.90 C461.43,380.07 459.28,380.18 458.30,379.00 C457.32,377.82 456.72,374.95 458.30,370.80 C459.88,366.65 464.63,360.05 467.80,354.10 C470.97,348.15 475.60,340.28 477.30,335.10 C479.00,329.92 478.22,325.97 478.00,323.00 C477.78,320.03 477.70,318.05 476.00,317.30 C474.30,316.55 472.33,316.72 467.80,318.50 C463.27,320.28 454.35,325.82 448.80,328.00 C443.25,330.18 437.47,332.00 434.50,331.60 C431.53,331.20 430.60,327.78 431.00,325.60 C431.40,323.42 433.93,321.27 436.90,318.50 C439.87,315.73 444.45,312.57 448.80,309.00 C453.15,305.43 459.80,299.77 463.00,297.10 C466.20,294.43 466.50,295.85 468.00,293.00 C469.50,290.15 472.00,284.83 472.00,280.00 C472.00,275.17 471.25,268.00 468.00,264.00 C464.75,260.00 457.58,258.33 452.50,256.00 C447.42,253.67 440.38,252.00 437.50,250.00 C434.62,248.00 435.28,245.58 435.20,244.00Z" fill="none" stroke="#e07466" stroke-width="7" filter="url(#blur15)"/>
<g fill="#de5a4e" filter="url(#blur2)"><circle cx="437" cy="244" r="6"/><circle cx="488" cy="195" r="6"/><circle cx="570.5" cy="160" r="6"/><circle cx="641" cy="180" r="6"/><circle cx="659" cy="263" r="6"/><circle cx="654" cy="292.5" r="6"/><circle cx="622" cy="361" r="6"/><circle cx="527.5" cy="394" r="6"/><circle cx="461" cy="376" r="6"/><circle cx="434" cy="327" r="6"/></g></g>
<rect x="433.5" y="263.5" width="56" height="9" rx="4.5" fill="#7dbf4a" stroke="#111" stroke-width="2"/>
<rect x="433.5" y="285" width="56" height="9" rx="4.5" fill="#7dbf4a" stroke="#111" stroke-width="2"/>
<ellipse cx="519.6" cy="275.8" rx="30.5" ry="19.5" transform="rotate(-47 519.6 275.8)" fill="#e9eaed" stroke="#b9b9bf" stroke-width="1.6"/>
<ellipse cx="519.6" cy="275.8" rx="27" ry="16" transform="rotate(-47 519.6 275.8)" fill="none" stroke="#f6f6f8" stroke-width="1.5"/>
<ellipse cx="570.9" cy="311.3" rx="18.2" ry="16.8" fill="url(#rcg)" stroke="#c53c3a" stroke-width="2.6"/>
<circle cx="550" cy="276" r="3.5" fill="#fff" filter="url(#blur15)"/>
<path d="M648,268.5 H608 Q603.5,268.5 603.5,273 V283 Q603.5,287.5 608,287.5 H648 Z" fill="#fffafd"/>
<path d="M607.5,271 H642 L650,267.5 L653,271 L643.5,276.5 H607.5 Z" fill="#d9138a"/>
<path d="M607.5,279 H643.5 L653,284.5 L650,288 L642,284.5 H607.5 Z" fill="#d9138a"/>
<path d="M562,276 H606 M562,278 H606" stroke="#d47a6c" stroke-width="0.9"/>

<!-- labels right -->
<text x="588.42" y="131.50" font-size="18.00" textLength="40.54" lengthAdjust="spacingAndGlyphs">cDC1</text>
<g stroke="#111" stroke-width="2.2" fill="none">
<path d="M607,137 V187"/><path d="M599,179 L607,187.5 L615,179"/>
<path d="M680.5,230 L654.5,261.5"/><path d="M654,250 L654,261.8 L665,261"/>
</g>
<text x="645.29" y="226.30" font-size="18.00" textLength="52.11" lengthAdjust="spacingAndGlyphs">MHC-I</text>

<!-- cancer cell label -->
<text x="38.70" y="135.50" font-size="18.00" textLength="141.60" lengthAdjust="spacingAndGlyphs">Dead Cancer Cell</text>
<g stroke="#111" stroke-width="2.2" fill="none">
<path d="M123.4,141 V208"/><path d="M115.7,200.5 L123.4,208.5 L131.2,200.5"/>
</g>

<!-- cancer cell -->
<path d="M127.60,215.50 C130.52,214.77 137.68,215.82 142.50,216.40 C147.32,216.98 151.92,218.40 156.50,219.00 C161.08,219.60 165.92,219.67 170.00,220.00 C174.08,220.33 178.67,218.83 181.00,221.00 C183.33,223.17 182.83,228.67 184.00,233.00 C185.17,237.33 186.00,243.67 188.00,247.00 C190.00,250.33 193.00,253.00 196.00,253.00 C199.00,253.00 203.00,249.00 206.00,247.00 C209.00,245.00 211.00,242.33 214.00,241.00 C217.00,239.67 221.00,238.67 224.00,239.00 C227.00,239.33 229.67,240.67 232.00,243.00 C234.33,245.33 236.67,249.33 238.00,253.00 C239.33,256.67 240.00,261.33 240.00,265.00 C240.00,268.67 239.67,272.58 238.00,275.00 C236.33,277.42 233.00,278.42 230.00,279.50 C227.00,280.58 223.00,280.75 220.00,281.50 C217.00,282.25 213.04,282.58 212.00,284.00 C210.96,285.42 212.00,286.92 213.75,290.00 C215.50,293.08 218.96,299.17 222.50,302.50 C226.04,305.83 232.08,307.92 235.00,310.00 C237.92,312.08 239.58,313.33 240.00,315.00 C240.42,316.67 240.00,318.33 237.50,320.00 C235.00,321.67 228.12,322.92 225.00,325.00 C221.88,327.08 220.00,329.17 218.75,332.50 C217.50,335.83 218.54,342.08 217.50,345.00 C216.46,347.92 216.25,348.92 212.50,350.00 C208.75,351.08 198.83,350.50 195.00,351.50 C191.17,352.50 190.83,353.58 189.50,356.00 C188.17,358.42 188.00,362.92 187.00,366.00 C186.00,369.08 185.00,373.00 183.50,374.50 C182.00,376.00 179.42,376.08 178.00,375.00 C176.58,373.92 175.75,370.50 175.00,368.00 C174.25,365.50 174.25,362.58 173.50,360.00 C172.75,357.42 171.83,354.05 170.50,352.50 C169.17,350.95 167.58,350.50 165.50,350.70 C163.42,350.90 160.75,352.45 158.00,353.70 C155.25,354.95 151.75,357.70 149.00,358.20 C146.25,358.70 143.38,358.07 141.50,356.70 C139.62,355.33 138.45,353.37 137.70,350.00 C136.95,346.63 137.62,339.75 137.00,336.50 C136.38,333.25 136.00,331.83 134.00,330.50 C132.00,329.17 128.28,329.38 125.00,328.50 C121.72,327.62 118.33,326.32 114.30,325.20 C110.27,324.08 104.18,323.50 100.80,321.80 C97.42,320.10 94.95,317.63 94.00,315.00 C93.05,312.37 93.60,308.62 95.10,306.00 C96.60,303.38 101.87,301.17 103.00,299.30 C104.13,297.43 103.22,297.43 101.90,294.80 C100.58,292.17 96.42,287.30 95.10,283.50 C93.78,279.70 93.85,275.42 94.00,272.00 C94.15,268.58 94.92,265.42 96.00,263.00 C97.08,260.58 98.00,259.87 100.50,257.50 C103.00,255.13 107.50,251.42 111.00,248.80 C114.50,246.18 119.30,244.13 121.50,241.80 C123.70,239.47 123.62,238.30 124.20,234.80 C124.78,231.30 124.43,224.02 125.00,220.80 C125.57,217.58 124.68,216.23 127.60,215.50Z" fill="#bdd1e2"/>
<g clip-path="url(#ccclip)">
<path d="M127.60,215.50 C130.52,214.77 137.68,215.82 142.50,216.40 C147.32,216.98 151.92,218.40 156.50,219.00 C161.08,219.60 165.92,219.67 170.00,220.00 C174.08,220.33 178.67,218.83 181.00,221.00 C183.33,223.17 182.83,228.67 184.00,233.00 C185.17,237.33 186.00,243.67 188.00,247.00 C190.00,250.33 193.00,253.00 196.00,253.00 C199.00,253.00 203.00,249.00 206.00,247.00 C209.00,245.00 211.00,242.33 214.00,241.00 C217.00,239.67 221.00,238.67 224.00,239.00 C227.00,239.33 229.67,240.67 232.00,243.00 C234.33,245.33 236.67,249.33 238.00,253.00 C239.33,256.67 240.00,261.33 240.00,265.00 C240.00,268.67 239.67,272.58 238.00,275.00 C236.33,277.42 233.00,278.42 230.00,279.50 C227.00,280.58 223.00,280.75 220.00,281.50 C217.00,282.25 213.04,282.58 212.00,284.00 C210.96,285.42 212.00,286.92 213.75,290.00 C215.50,293.08 218.96,299.17 222.50,302.50 C226.04,305.83 232.08,307.92 235.00,310.00 C237.92,312.08 239.58,313.33 240.00,315.00 C240.42,316.67 240.00,318.33 237.50,320.00 C235.00,321.67 228.12,322.92 225.00,325.00 C221.88,327.08 220.00,329.17 218.75,332.50 C217.50,335.83 218.54,342.08 217.50,345.00 C216.46,347.92 216.25,348.92 212.50,350.00 C208.75,351.08 198.83,350.50 195.00,351.50 C191.17,352.50 190.83,353.58 189.50,356.00 C188.17,358.42 188.00,362.92 187.00,366.00 C186.00,369.08 185.00,373.00 183.50,374.50 C182.00,376.00 179.42,376.08 178.00,375.00 C176.58,373.92 175.75,370.50 175.00,368.00 C174.25,365.50 174.25,362.58 173.50,360.00 C172.75,357.42 171.83,354.05 170.50,352.50 C169.17,350.95 167.58,350.50 165.50,350.70 C163.42,350.90 160.75,352.45 158.00,353.70 C155.25,354.95 151.75,357.70 149.00,358.20 C146.25,358.70 143.38,358.07 141.50,356.70 C139.62,355.33 138.45,353.37 137.70,350.00 C136.95,346.63 137.62,339.75 137.00,336.50 C136.38,333.25 136.00,331.83 134.00,330.50 C132.00,329.17 128.28,329.38 125.00,328.50 C121.72,327.62 118.33,326.32 114.30,325.20 C110.27,324.08 104.18,323.50 100.80,321.80 C97.42,320.10 94.95,317.63 94.00,315.00 C93.05,312.37 93.60,308.62 95.10,306.00 C96.60,303.38 101.87,301.17 103.00,299.30 C104.13,297.43 103.22,297.43 101.90,294.80 C100.58,292.17 96.42,287.30 95.10,283.50 C93.78,279.70 93.85,275.42 94.00,272.00 C94.15,268.58 94.92,265.42 96.00,263.00 C97.08,260.58 98.00,259.87 100.50,257.50 C103.00,255.13 107.50,251.42 111.00,248.80 C114.50,246.18 119.30,244.13 121.50,241.80 C123.70,239.47 123.62,238.30 124.20,234.80 C124.78,231.30 124.43,224.02 125.00,220.80 C125.57,217.58 124.68,216.23 127.60,215.50Z" fill="none" stroke="#d6e5ef" stroke-width="16" filter="url(#blur1)"/>
<path d="M127.60,215.50 C130.52,214.77 137.68,215.82 142.50,216.40 C147.32,216.98 151.92,218.40 156.50,219.00 C161.08,219.60 165.92,219.67 170.00,220.00 C174.08,220.33 178.67,218.83 181.00,221.00 C183.33,223.17 182.83,228.67 184.00,233.00 C185.17,237.33 186.00,243.67 188.00,247.00 C190.00,250.33 193.00,253.00 196.00,253.00 C199.00,253.00 203.00,249.00 206.00,247.00 C209.00,245.00 211.00,242.33 214.00,241.00 C217.00,239.67 221.00,238.67 224.00,239.00 C227.00,239.33 229.67,240.67 232.00,243.00 C234.33,245.33 236.67,249.33 238.00,253.00 C239.33,256.67 240.00,261.33 240.00,265.00 C240.00,268.67 239.67,272.58 238.00,275.00 C236.33,277.42 233.00,278.42 230.00,279.50 C227.00,280.58 223.00,280.75 220.00,281.50 C217.00,282.25 213.04,282.58 212.00,284.00 C210.96,285.42 212.00,286.92 213.75,290.00 C215.50,293.08 218.96,299.17 222.50,302.50 C226.04,305.83 232.08,307.92 235.00,310.00 C237.92,312.08 239.58,313.33 240.00,315.00 C240.42,316.67 240.00,318.33 237.50,320.00 C235.00,321.67 228.12,322.92 225.00,325.00 C221.88,327.08 220.00,329.17 218.75,332.50 C217.50,335.83 218.54,342.08 217.50,345.00 C216.46,347.92 216.25,348.92 212.50,350.00 C208.75,351.08 198.83,350.50 195.00,351.50 C191.17,352.50 190.83,353.58 189.50,356.00 C188.17,358.42 188.00,362.92 187.00,366.00 C186.00,369.08 185.00,373.00 183.50,374.50 C182.00,376.00 179.42,376.08 178.00,375.00 C176.58,373.92 175.75,370.50 175.00,368.00 C174.25,365.50 174.25,362.58 173.50,360.00 C172.75,357.42 171.83,354.05 170.50,352.50 C169.17,350.95 167.58,350.50 165.50,350.70 C163.42,350.90 160.75,352.45 158.00,353.70 C155.25,354.95 151.75,357.70 149.00,358.20 C146.25,358.70 143.38,358.07 141.50,356.70 C139.62,355.33 138.45,353.37 137.70,350.00 C136.95,346.63 137.62,339.75 137.00,336.50 C136.38,333.25 136.00,331.83 134.00,330.50 C132.00,329.17 128.28,329.38 125.00,328.50 C121.72,327.62 118.33,326.32 114.30,325.20 C110.27,324.08 104.18,323.50 100.80,321.80 C97.42,320.10 94.95,317.63 94.00,315.00 C93.05,312.37 93.60,308.62 95.10,306.00 C96.60,303.38 101.87,301.17 103.00,299.30 C104.13,297.43 103.22,297.43 101.90,294.80 C100.58,292.17 96.42,287.30 95.10,283.50 C93.78,279.70 93.85,275.42 94.00,272.00 C94.15,268.58 94.92,265.42 96.00,263.00 C97.08,260.58 98.00,259.87 100.50,257.50 C103.00,255.13 107.50,251.42 111.00,248.80 C114.50,246.18 119.30,244.13 121.50,241.80 C123.70,239.47 123.62,238.30 124.20,234.80 C124.78,231.30 124.43,224.02 125.00,220.80 C125.57,217.58 124.68,216.23 127.60,215.50Z" fill="none" stroke="url(#ccb1)" stroke-width="8.5"/>
<path d="M127.60,215.50 C130.52,214.77 137.68,215.82 142.50,216.40 C147.32,216.98 151.92,218.40 156.50,219.00 C161.08,219.60 165.92,219.67 170.00,220.00 C174.08,220.33 178.67,218.83 181.00,221.00 C183.33,223.17 182.83,228.67 184.00,233.00 C185.17,237.33 186.00,243.67 188.00,247.00 C190.00,250.33 193.00,253.00 196.00,253.00 C199.00,253.00 203.00,249.00 206.00,247.00 C209.00,245.00 211.00,242.33 214.00,241.00 C217.00,239.67 221.00,238.67 224.00,239.00 C227.00,239.33 229.67,240.67 232.00,243.00 C234.33,245.33 236.67,249.33 238.00,253.00 C239.33,256.67 240.00,261.33 240.00,265.00 C240.00,268.67 239.67,272.58 238.00,275.00 C236.33,277.42 233.00,278.42 230.00,279.50 C227.00,280.58 223.00,280.75 220.00,281.50 C217.00,282.25 213.04,282.58 212.00,284.00 C210.96,285.42 212.00,286.92 213.75,290.00 C215.50,293.08 218.96,299.17 222.50,302.50 C226.04,305.83 232.08,307.92 235.00,310.00 C237.92,312.08 239.58,313.33 240.00,315.00 C240.42,316.67 240.00,318.33 237.50,320.00 C235.00,321.67 228.12,322.92 225.00,325.00 C221.88,327.08 220.00,329.17 218.75,332.50 C217.50,335.83 218.54,342.08 217.50,345.00 C216.46,347.92 216.25,348.92 212.50,350.00 C208.75,351.08 198.83,350.50 195.00,351.50 C191.17,352.50 190.83,353.58 189.50,356.00 C188.17,358.42 188.00,362.92 187.00,366.00 C186.00,369.08 185.00,373.00 183.50,374.50 C182.00,376.00 179.42,376.08 178.00,375.00 C176.58,373.92 175.75,370.50 175.00,368.00 C174.25,365.50 174.25,362.58 173.50,360.00 C172.75,357.42 171.83,354.05 170.50,352.50 C169.17,350.95 167.58,350.50 165.50,350.70 C163.42,350.90 160.75,352.45 158.00,353.70 C155.25,354.95 151.75,357.70 149.00,358.20 C146.25,358.70 143.38,358.07 141.50,356.70 C139.62,355.33 138.45,353.37 137.70,350.00 C136.95,346.63 137.62,339.75 137.00,336.50 C136.38,333.25 136.00,331.83 134.00,330.50 C132.00,329.17 128.28,329.38 125.00,328.50 C121.72,327.62 118.33,326.32 114.30,325.20 C110.27,324.08 104.18,323.50 100.80,321.80 C97.42,320.10 94.95,317.63 94.00,315.00 C93.05,312.37 93.60,308.62 95.10,306.00 C96.60,303.38 101.87,301.17 103.00,299.30 C104.13,297.43 103.22,297.43 101.90,294.80 C100.58,292.17 96.42,287.30 95.10,283.50 C93.78,279.70 93.85,275.42 94.00,272.00 C94.15,268.58 94.92,265.42 96.00,263.00 C97.08,260.58 98.00,259.87 100.50,257.50 C103.00,255.13 107.50,251.42 111.00,248.80 C114.50,246.18 119.30,244.13 121.50,241.80 C123.70,239.47 123.62,238.30 124.20,234.80 C124.78,231.30 124.43,224.02 125.00,220.80 C125.57,217.58 124.68,216.23 127.60,215.50Z" fill="none" stroke="url(#ccb2)" stroke-width="3.5"/>
</g>
<path d="M140.8,267.5 C146,262 152,260 158.3,260.2 C165,260 172,262 175.8,265.8 C182,271 186,277 185.4,283.3 C186,292 185,300 181,306 C177,310 172,312 167,312 C158,312 150,311 142.5,307.8 C137,305 135,300 135.5,293.8 C136,290 140,287 142.5,284 C140,282 137,280 136.4,278 C136,274 138,270 140.8,267.5 Z" fill="url(#nucg)" stroke="#1892c6" stroke-width="3.4"/>
<g class="bb">
<path d="M217.5,293.5 C222,287 228,283 240,281.5 C250,280 262,280 268,285 C273,290 273,300 271,305 C268,312 263,315 258,314 C250,312 246,309 240,306 C232,302 222,299 217.5,293.5 Z" fill="#bfe0ef" stroke="#62b5db" stroke-width="3"/>
<path d="M226,293 C232,288 245,286 257,287 C264,289 266,296 264,302 C261,308 254,307 247,304 C240,301 232,297 226,293 Z" fill="none" stroke="#9ed0e9" stroke-width="1.8"/>
<circle cx="245" cy="295" r="4.8" fill="#6cc4e8" stroke="#1699cc" stroke-width="2.8"/>
<path d="M191,214 C195,207 205,206 212,207 C220,208 223,214 222.5,221 C222,228 217,231 210,231 C203,231 198,228 194,225 C190,221 189,217 191,214 Z" fill="#bfe0ef" stroke="#62b5db" stroke-width="3"/>
<circle cx="207" cy="219.5" r="4.5" fill="#8fd3ee" stroke="#1699cc" stroke-width="2.2"/>
<path d="M193,379 C190,372 195,365 203,361 C210,358 218,357 222,362 C224,366 220,369 214,368 C208,367 203,369 200,373 C198,378 196,381 193,379 Z" fill="#bfe0ef" stroke="#5fb3da" stroke-width="2.8"/>
<path d="M88,349 C87,338 96,331 107,331 C119,331 126,339 125.5,350 C125,361 117,368 107,368 C97,368 89,362 89,356 C90,354 92,353 92,352 C90,351 88,350 88,349 Z" fill="#bfe0ef" stroke="#62b5db" stroke-width="3"/>
<circle cx="106.5" cy="349.7" r="12" fill="none" stroke="#9ed0e9" stroke-width="2"/>
<circle cx="106.8" cy="349.8" r="6" fill="#8fd3ee" stroke="#1699cc" stroke-width="2.6"/>
</g>
<g fill="#8ccae6" stroke="#52a4d0" stroke-width="2.2">
<circle cx="106.6" cy="219.9" r="3.8"/><circle cx="100.5" cy="237.4" r="3.8"/><circle cx="90.5" cy="293.8" r="3.8"/><circle cx="244" cy="244" r="3.5"/>
</g>
<g fill="#e6f4fa"><circle cx="106" cy="219.5" r="1.2"/><circle cx="100" cy="237" r="1.2"/><circle cx="90" cy="293.4" r="1.2"/><circle cx="243.6" cy="243.6" r="1.1"/></g>
<g fill="none" stroke="#d2307c" stroke-width="2.8" stroke-linecap="round" stroke-linejoin="round">
<path d="M190,222 C193,221.5 197,220 196.5,217.5 C196,215 191,214.5 188.5,217.5 C186,221 186.5,228 189,232 C191,235 196,234 199,229.5 C201.5,226 205,221 209,217 C206.5,220 204.5,224 204,227 C203.8,229 204,230 204.5,230.5"/>
</g>
<g stroke="#f3e23e" stroke-width="4.2" stroke-linecap="round">
<path d="M166.3,242.5 L219.8,209.4"/><path d="M184.5,290.4 L239,256.7"/><path d="M237.5,321 L277.5,273.5"/>
</g>
<g fill="none" stroke="#d2307c" stroke-width="2.8" stroke-linecap="round" stroke-linejoin="round">
<path d="M199,279.5 C197.5,276 197.5,271 200.5,269 C203,268 204,272 203.5,274.3 C205,272 207,268 211.8,265.3 C215,264 218,267 218.5,271.3 C219,276 216,282 214,284 C212,285.5 209,284 208.8,281.8 C209,280 212,280 214.8,281"/>
<path d="M248.8,293.4 C250,292 252,291 252.5,293.5 C253,296 251.5,299 249.6,299 C248,299 247.5,297 248,295.8 M254.4,291.8 C256,290.5 258,290 259.2,290.2 C262,290.5 264,292 265,294.5 C266,297 265,300 263.2,301.4 C261,303 259,303.5 256,305 C254,306 252,307 252,308.6 C252.5,310 255,310.5 256,310.2 C257.5,310 258.5,309 259.2,308.6"/>
</g>
</svg>
</body></html>
